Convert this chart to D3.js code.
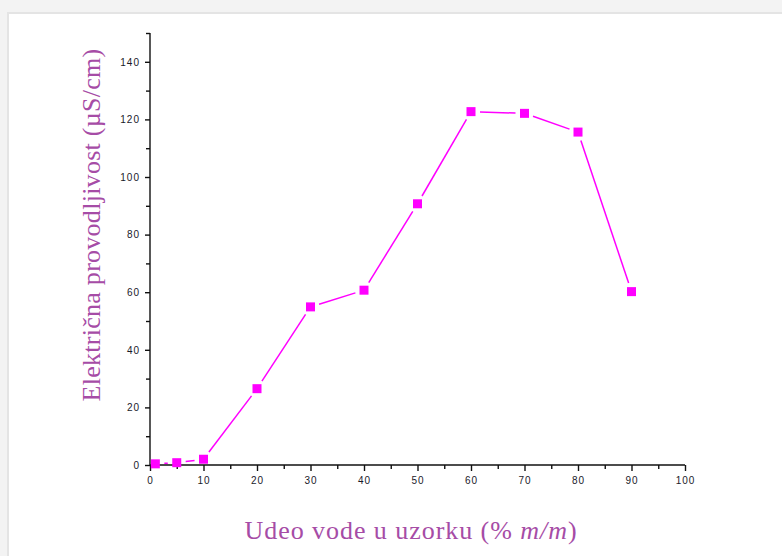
<!DOCTYPE html>
<html><head><meta charset="utf-8">
<script src="https://cdn.jsdelivr.net/npm/d3@7"></script>
<style>html,body{margin:0;padding:0;background:#fff;}svg{display:block;}</style>
</head><body>
<svg id="c" width="782" height="556"></svg>
<script>
const waterPct = [1, 5, 10, 20, 30, 40, 50, 60, 70, 80, 90];
const conductivity = [0.4, 0.8, 2.0, 26.5, 54.9, 60.7, 90.7, 122.7, 122.1, 115.6, 60.2];
const xTicks = [0, 10, 20, 30, 40, 50, 60, 70, 80, 90, 100];
const yTicks = [0, 20, 40, 60, 80, 100, 120, 140];
const xTitle = "Udeo vode u uzorku (% ";
const yTitle = "Električna provodljivost (µS/cm)";

const svg = d3.select("#c");
svg.append("rect").attr("width",782).attr("height",556).attr("fill","#f3f3f3");
svg.append("rect").attr("x",7).attr("y",12).attr("width",775).attr("height",544).attr("fill","#e4e4e4");
svg.append("rect").attr("x",9).attr("y",14).attr("width",773).attr("height",542).attr("fill","#ffffff");

const x = d3.scaleLinear().domain([0,100]).range([150,685]);
const y = d3.scaleLinear().domain([0,150]).range([465,33]);

const ink = "#111";
const g = svg.append("g");
const xAxis = d3.axisBottom(x).tickValues(xTicks).tickSize(6).tickPadding(4).tickFormat(d3.format("d"));
const xMinor = d3.axisBottom(x).tickValues(d3.range(5,100,10)).tickSize(4).tickFormat("");
const yAxis = d3.axisLeft(y).tickValues(yTicks).tickSize(5).tickPadding(5).tickFormat(d3.format("d"));
const yMinor = d3.axisLeft(y).tickValues(d3.range(10,151,20)).tickSize(4).tickFormat("");

function style(sel){
  sel.select(".domain").attr("stroke",ink).attr("stroke-width",1.4);
  sel.selectAll(".tick line").attr("stroke",ink).attr("stroke-width",1.4);
  sel.selectAll(".tick text").attr("fill","#1a1a2a").attr("font-family","Arial, 'Liberation Sans', sans-serif").attr("font-size",10).attr("letter-spacing","1px");
}
g.append("g").attr("transform","translate(0,465)").call(xMinor).call(style).select(".domain").remove();
g.append("g").attr("transform","translate(150,0)").call(yMinor).call(style).select(".domain").remove();
const gx = g.append("g").attr("transform","translate(0,465)").call(xAxis).call(style);
gx.select(".domain").attr("d","M150,0H685");
gx.selectAll(".tick text").attr("dy","0.9em");
const gy = g.append("g").attr("transform","translate(150,0)").call(yAxis).call(style);
gy.select(".domain").attr("d","M0,465V33");

const pts = waterPct.map((d,i)=>[x(d), y(conductivity[i])]);
const gap = 9;
const lineG = g.append("g");
for(let i=0;i<pts.length-1;i++){
  const [x1,y1]=pts[i],[x2,y2]=pts[i+1];
  const L=Math.hypot(x2-x1,y2-y1);
  if(L<=2*gap) continue;
  const ux=(x2-x1)/L, uy=(y2-y1)/L;
  lineG.append("line")
    .attr("x1",x1+ux*gap).attr("y1",y1+uy*gap)
    .attr("x2",x2-ux*gap).attr("y2",y2-uy*gap)
    .attr("stroke","#ff00ff").attr("stroke-width",1.5);
}
const s=9;
g.append("g").selectAll("rect").data(waterPct).join("rect")
  .attr("x",(d)=>x(d)-s/2).attr("y",(d,i)=>y(conductivity[i])-s/2)
  .attr("width",s).attr("height",s).attr("fill","#ff00ff");

const titleColor = "#a64ca6";
function fit(sel, target, nChars){
  const len = sel.node().getComputedTextLength();
  sel.attr("letter-spacing", Math.max(0,(target-len)/nChars).toFixed(2)+"px");
}
const xt = svg.append("text").attr("x",411).attr("y",539).attr("text-anchor","middle")
  .attr("font-family","'Liberation Serif','Times New Roman',serif").attr("font-size",26).attr("fill",titleColor);
xt.append("tspan").text(xTitle);
xt.append("tspan").attr("font-style","italic").text("m/m");
xt.append("tspan").text(")");
fit(xt, 333, (xTitle+"m/m)").length);

const yt = svg.append("text").attr("transform","translate(100,225) rotate(-90)").attr("text-anchor","middle")
  .attr("font-family","'Liberation Serif','Times New Roman',serif").attr("font-size",26).attr("fill",titleColor)
  .text(yTitle);
fit(yt, 353, yTitle.length);
</script>
</body></html>
